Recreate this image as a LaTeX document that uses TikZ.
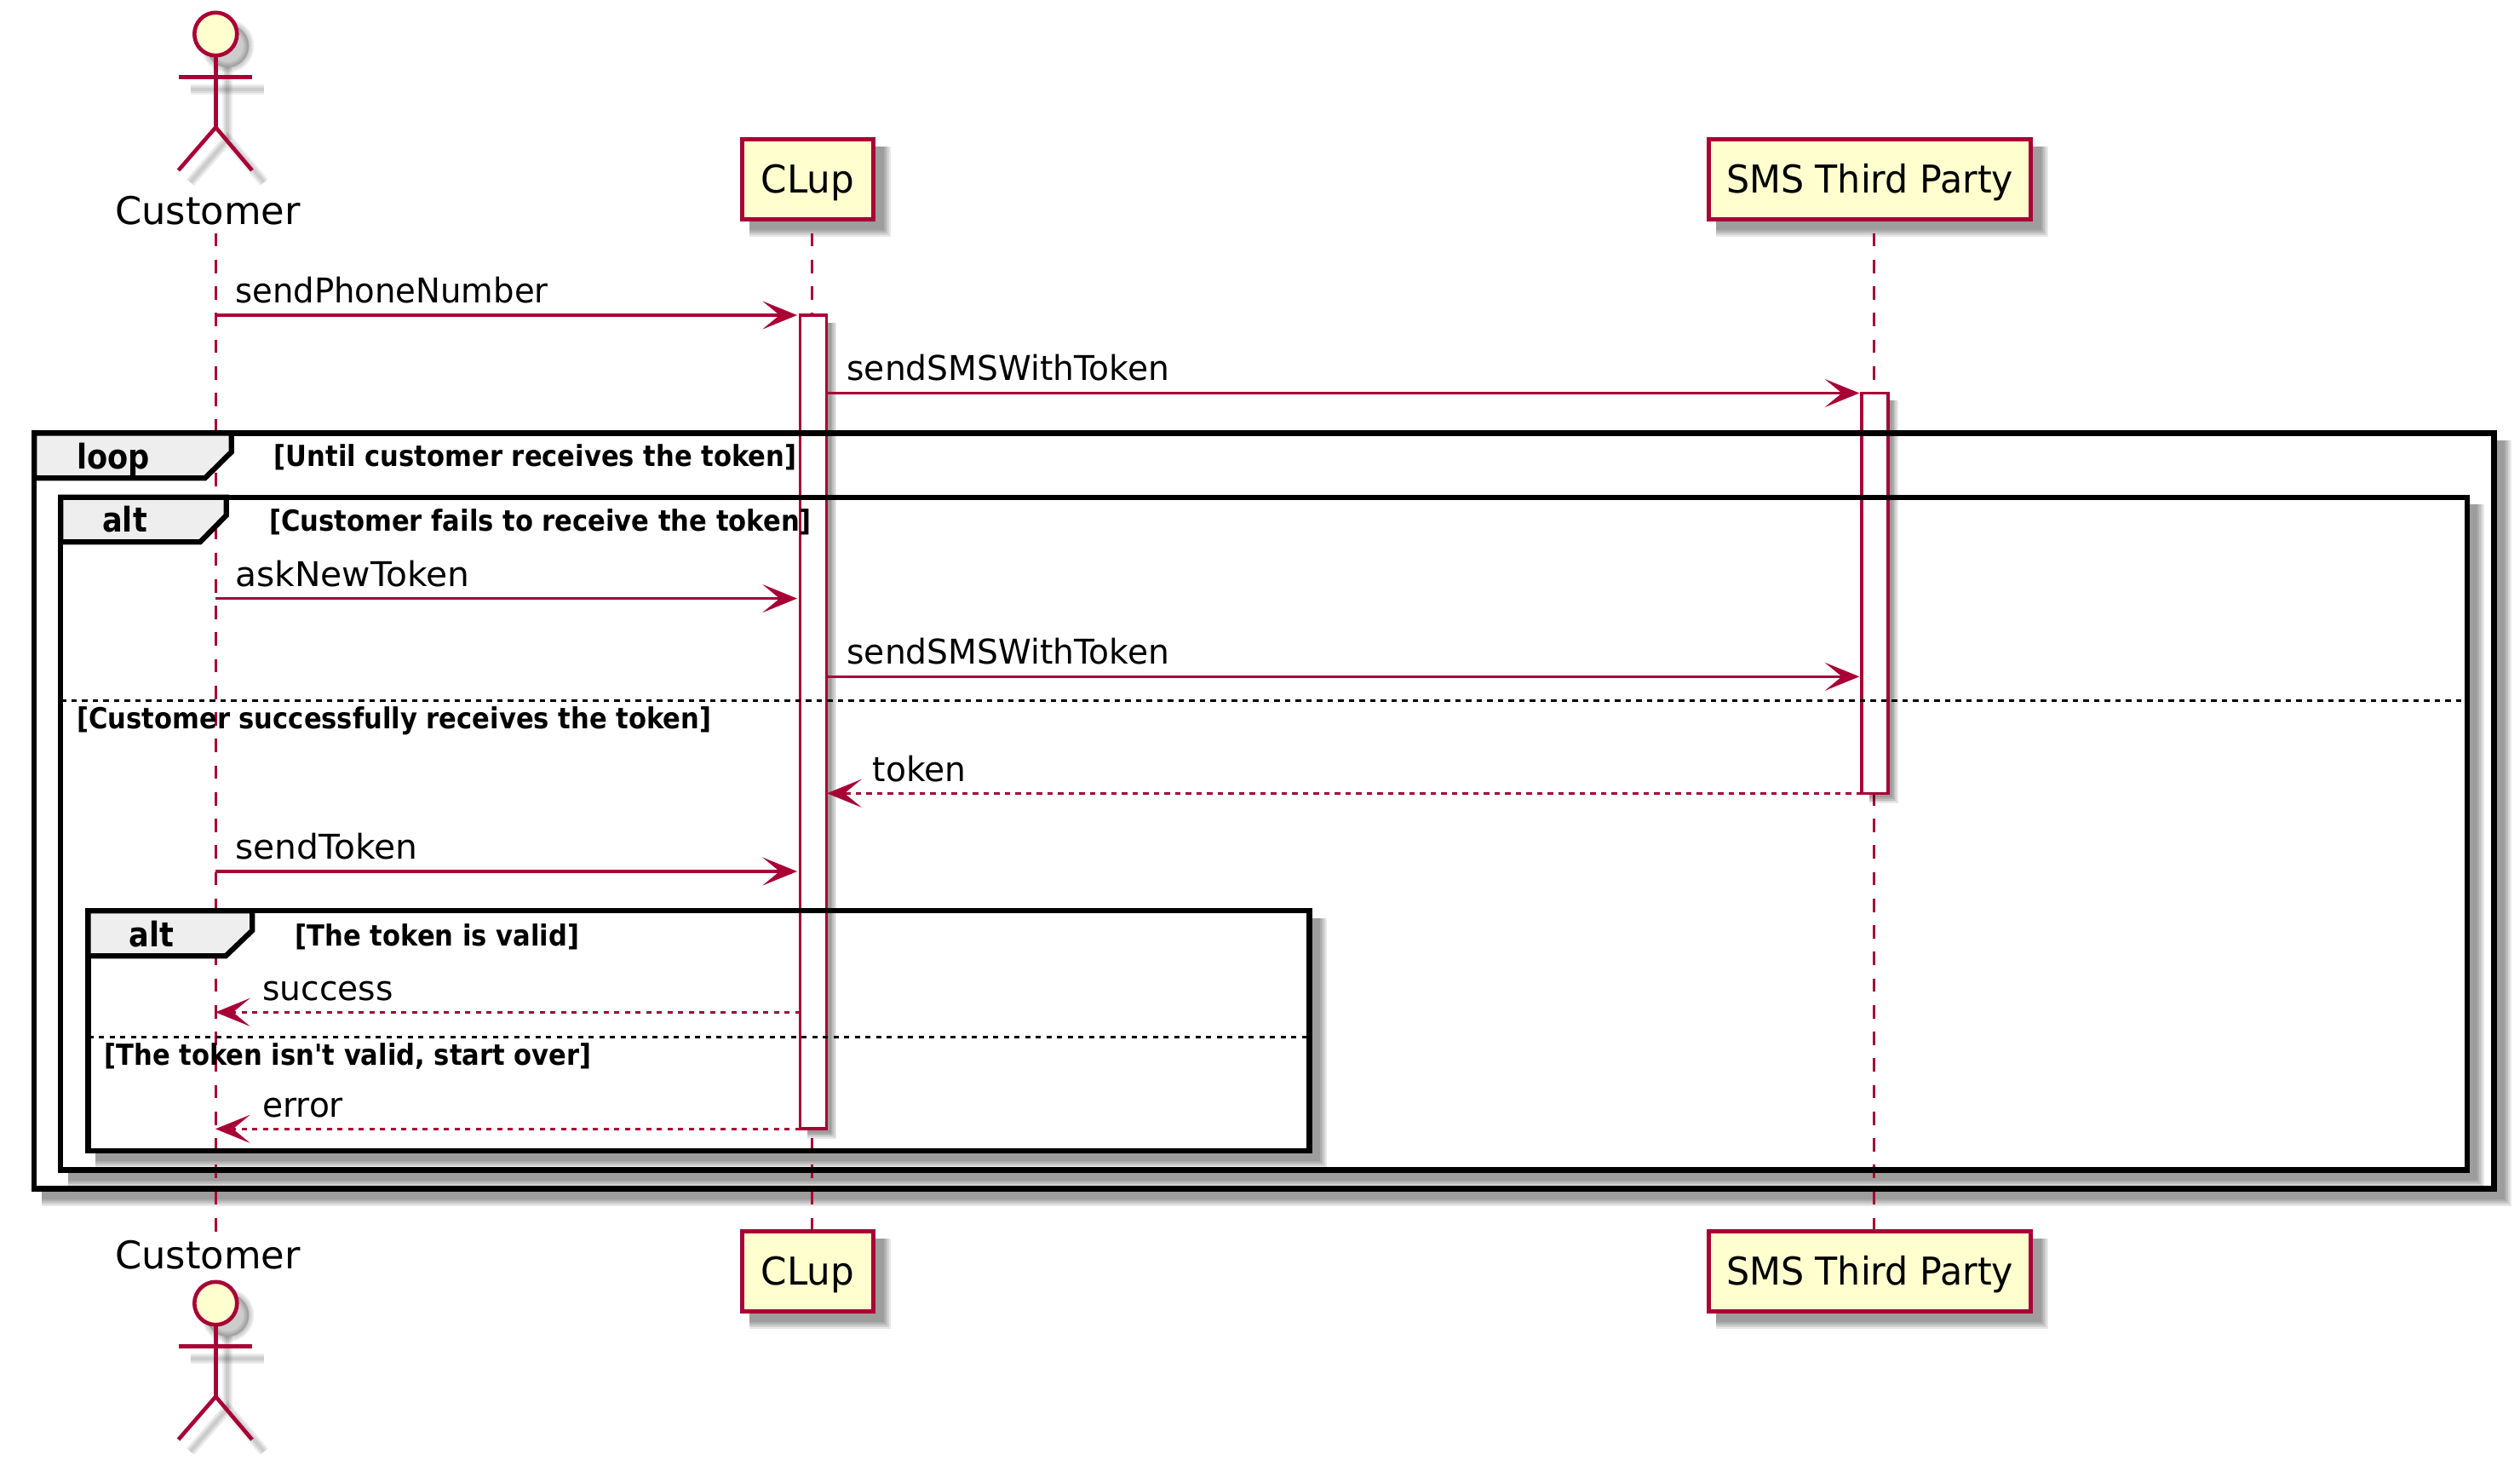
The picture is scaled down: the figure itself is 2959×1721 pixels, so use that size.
\documentclass[tikz,border=0pt]{standalone}
\usepackage{fontspec}
\setmainfont{DejaVu Sans}
\newfontfamily\lblfont[FakeStretch=0.98]{DejaVu Sans}
\newfontfamily\lblnarrowfont[FakeStretch=0.965]{DejaVu Sans}
\newfontfamily\lblwidefont[FakeStretch=1.02]{DejaVu Sans}
\newfontfamily\actorfont[FakeStretch=1.0]{DejaVu Sans}
\newfontfamily\cupfont[FakeStretch=0.97]{DejaVu Sans}
\newfontfamily\smsfont[FakeStretch=0.95]{DejaVu Sans}
\newfontfamily\kwfont[FakeStretch=0.88]{DejaVu Sans Bold}
\newfontfamily\boldfont[FakeStretch=0.90]{DejaVu Sans Bold}
\usetikzlibrary{arrows.meta}
\definecolor{plum}{HTML}{A80036}
\definecolor{pale}{HTML}{FEFECE}
\definecolor{tabgray}{HTML}{EEEEEE}
% shadow: #1..#4 box, #5 low and #6 high extent beyond right/bottom
\newcommand\softrect[6]{%
  \foreach \k in {0,1,2,3,4}{\fill[black,opacity=.09] ({#1+8.5},{#2+8.5}) rectangle ({#3+#5+\k*(#6-#5)/4},{#4+#5+\k*(#6-#5)/4});}}
\newcommand\framebg[4]{\softrect{#1}{#2}{#3}{#4}{12}{20}\fill[white] (#1,#2) rectangle (#3,#4);}
\newcommand\actorlines[1]{%
  \begin{scope}[yshift=-#1pt]
  \draw (253.3,65) -- (253.3,149.5);
  \draw (209.5,90.5) -- (296,90.5);
  \draw (209.5,200) -- (253.3,149.5) -- (296,200);
  \end{scope}}
\newcommand\actorfig[1]{%
  \begin{scope}[xshift=14pt,yshift=-14pt]
  \foreach \w in {12,8,4}{%
    \begin{scope}[line width=\w pt,draw=black,draw opacity=.07,fill=black,fill opacity=.07]
    \actorlines{#1}
    \filldraw (253.3,{40+#1}) circle[x radius=25,y radius=25.2];
    \end{scope}}
  \end{scope}
  \begin{scope}[draw=plum,line width=4.6pt]
  \actorlines{#1}
  \filldraw[fill=pale] (253.3,{40+#1}) circle[x radius=25,y radius=25.2];
  \end{scope}}
\tikzset{
  partbox/.style={draw=plum,fill=pale,line width=4.6pt,inner sep=0pt,text height=62.8pt,text depth=31.2pt},
  lifeline/.style={draw=plum,line width=3.2pt,dash pattern=on 15.6pt off 15.65pt},
  actbox/.style={draw=plum,fill=white,line width=3.2pt,inner sep=0pt},
  msg/.style={draw=plum,line width=3.2pt,-{Stealth[length=40.6pt,width=33pt,inset=20pt,fill=plum]}},
  retmsg/.style={msg,dash pattern=on 6.25pt off 6.25pt},
  lbl/.style={anchor=base west,inner sep=0pt,font=\fontsize{40}{46}\lblfont},
  lblnarrow/.style={anchor=base west,inner sep=0pt,font=\fontsize{40}{46}\lblnarrowfont},
  lblwide/.style={anchor=base west,inner sep=0pt,font=\fontsize{40}{46}\lblwidefont},
  actorlbl/.style={anchor=base west,inner sep=0pt,font=\fontsize{44.8}{50}\actorfont},
  framestroke/.style={draw=black,line width=6.2pt,inner sep=0pt},
  sepline/.style={draw=black,line width=3.1pt,dash pattern=on 6.25pt off 6.25pt},
  tabshape/.style={draw=black,fill=tabgray,line width=6.2pt,line join=miter},
  fkw/.style={anchor=base west,inner sep=0pt,font=\fontsize{40}{46}\kwfont},
  fcond/.style={anchor=base west,inner sep=0pt,font=\fontsize{34}{40}\boldfont},
}
\begin{document}
\begin{tikzpicture}[x=1pt,y=-1pt]
\path[use as bounding box,fill=white] (0,0) rectangle (2959,1721);
% frame backgrounds
\framebg{40.3}{508.5}{2928.5}{1395.5}
\framebg{71.3}{583.8}{2896.8}{1373.5}
\framebg{103.5}{1069.2}{1537.5}{1351.3}
% participant shadows
\softrect{871.3}{163.5}{1025.7}{257.5}{12}{20}
\softrect{2006.5}{163.5}{2384.7}{257.5}{12}{20}
\softrect{871.3}{1445.5}{1025.7}{1539.5}{12}{20}
\softrect{2006.5}{1445.5}{2384.7}{1539.5}{12}{20}
% lifelines
\coordinate (custTop) at (253.3,273.7);
\coordinate (custBot) at (253.3,1445.5);
\coordinate (cupTop) at (953.3,273.7);
\coordinate (cupBot) at (953.3,1445.5);
\coordinate (smsTop) at (2200.3,273.7);
\coordinate (smsBot) at (2200.3,1445.5);
\draw[lifeline] (custTop) -- (custBot);
\draw[lifeline] (cupTop) -- (cupBot);
\draw[lifeline] (smsTop) -- (smsBot);
% activations
\softrect{939.8}{370}{970.7}{1325}{5}{11.5}
\softrect{2186}{461.5}{2217}{931.3}{5}{11.5}
\node[actbox,minimum width=30.9pt,minimum height=955pt] (actCup) at (955.25,847.5) {};
\node[actbox,minimum width=31pt,minimum height=469.8pt] (actSms) at (2201.5,696.4) {};
% frames
\node[framestroke,minimum width=2888.2pt,minimum height=887pt] (frLoop) at (1484.4,952) {};
\node[framestroke,minimum width=2825.5pt,minimum height=789.7pt] (frAltA) at (1484.05,978.65) {};
\node[framestroke,minimum width=1434pt,minimum height=282.1pt] (frAltB) at (820.5,1210.25) {};
\draw[tabshape] (40.3,508.5) -- (271.7,508.5) -- (271.7,530.7) -- (240.7,561.3) -- (40.3,561.3) -- cycle;
\draw[tabshape] (71.3,583.8) -- (265.7,583.8) -- (265.7,605) -- (235,636.3) -- (71.3,636.3) -- cycle;
\draw[tabshape] (103.5,1069.2) -- (296.3,1069.2) -- (296.3,1092.3) -- (265,1122.3) -- (103.5,1122.3) -- cycle;
\coordinate (sepAl) at (71.3,822.3);
\coordinate (sepAr) at (2896.8,822.3);
\coordinate (sepBl) at (103.5,1217.3);
\coordinate (sepBr) at (1537.5,1217.3);
\draw[sepline] (sepAl) -- (sepAr);
\draw[sepline] (sepBl) -- (sepBr);
% participants
\node[partbox,minimum width=154.4pt,font=\fontsize{45}{50}\cupfont] (cupA) at (948.5,210.5) {CLup};
\node[partbox,minimum width=378.2pt,font=\fontsize{45}{50}\smsfont] (smsA) at (2195.6,210.5) {SMS Third Party};
\node[partbox,minimum width=154.4pt,font=\fontsize{45}{50}\cupfont] (cupB) at (948.5,1492.5) {CLup};
\node[partbox,minimum width=378.2pt,font=\fontsize{45}{50}\smsfont] (smsB) at (2195.6,1492.5) {SMS Third Party};
\actorfig{0}
\actorfig{1490}
\node[actorlbl] (custA) at (135,263) {Customer};
\node[actorlbl] (custB) at (135,1489) {Customer};
% messages
\coordinate (m1a) at (253.3,370); \coordinate (m1b) at (936,370);
\draw[msg] (m1a) -- (m1b);
\node[lblnarrow] (m1t) at (276,355) {sendPhoneNumber};
\coordinate (m2a) at (970.7,461.5); \coordinate (m2b) at (2183.3,461.5);
\draw[msg] (m2a) -- (m2b);
\node[lbl] (m2t) at (994.3,446) {sendSMSWithToken};
\coordinate (m3a) at (253.3,702.6); \coordinate (m3b) at (936,702.6);
\draw[msg] (m3a) -- (m3b);
\node[lblwide] (m3t) at (276,688) {askNewToken};
\coordinate (m4a) at (970.7,794.3); \coordinate (m4b) at (2183.3,794.3);
\draw[msg] (m4a) -- (m4b);
\node[lbl] (m4t) at (994.3,779) {sendSMSWithToken};
\coordinate (m5a) at (2186,931.3); \coordinate (m5b) at (971,931.3);
\draw[retmsg] (m5a) -- (m5b);
\node[lbl] (m5t) at (1024.5,917) {token};
\coordinate (m6a) at (253.3,1023); \coordinate (m6b) at (936,1023);
\draw[msg] (m6a) -- (m6b);
\node[lblwide] (m6t) at (276,1008) {sendToken};
\coordinate (m7a) at (939.8,1188.3); \coordinate (m7b) at (253,1188.3);
\draw[retmsg] (m7a) -- (m7b);
\node[lbl] (m7t) at (308,1174) {success};
\coordinate (m8a) at (939.8,1325.3); \coordinate (m8b) at (253,1325.3);
\draw[retmsg] (m8a) -- (m8b);
\node[lbl] (m8t) at (308,1311) {error};
% frame labels
\node[fkw] (kLoop) at (90,550) {loop};
\node[fcond] (cLoop) at (321.7,547.7) {[Until customer receives the token]};
\node[fkw] (kAltA) at (120,624.3) {alt};
\node[fcond] (cAltA) at (316,623.3) {[Customer fails to receive the token]};
\node[fcond] (cAltA2) at (90.1,855) {[Customer successfully receives the token]};
\node[fkw] (kAltB) at (151.7,1111) {alt};
\node[fcond] (cAltB) at (346.7,1110) {[The token is valid]};
\node[fcond] (cAltB2) at (122.3,1250) {[The token isn't valid, start over]};
\end{tikzpicture}
\end{document}
